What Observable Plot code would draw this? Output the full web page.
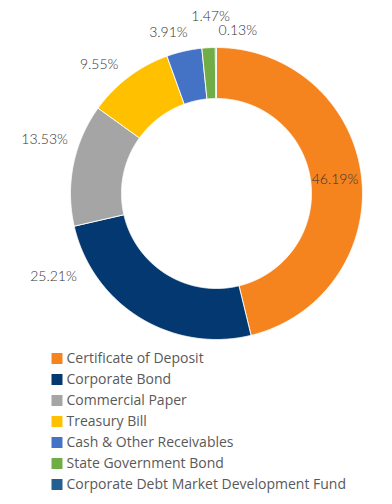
<!DOCTYPE html>
<html>
<head>
<meta charset="utf-8">
<script src="https://cdn.jsdelivr.net/npm/d3@7"></script>
<script src="https://cdn.jsdelivr.net/npm/@observablehq/plot@0.6"></script>
<style>
  html, body { margin: 0; padding: 0; background: #ffffff; }
  #chart svg { display: block; }
</style>
</head>
<body>
<div id="chart"></div>
<script>
// ---- data ----
const categories = [
  "Certificate of Deposit",
  "Corporate Bond",
  "Commercial Paper",
  "Treasury Bill",
  "Cash & Other Receivables",
  "State Government Bond",
  "Corporate Debt Market Development Fund"
];
const values = [46.19, 25.21, 13.53, 9.55, 3.91, 1.47, 0.13];
const colors = ["#F5841F", "#043870", "#A5A5A5", "#FFC000", "#4472C4", "#70AD47", "#255E91"];

// ---- label placement (angle nudge in degrees, distance in ring radii) ----
const labelAngleNudge = [0.2, 31.3, 5.9, -5.2, -3.8, 1.2, 7.7];
const labelDistance = [0.817, 1.253, 1.233, 1.195, 1.151, 1.21, 1.123];

// ---- geometry (unit radius = outer radius) ----
const W = 392, H = 345;
const Rpx = 146, cx = 216, cy = 193;
const inner = 95 / Rpx;
const total = d3.sum(values);

const slices = [];
let acc = 0;
categories.forEach((c, i) => {
  const a0 = acc / total * 2 * Math.PI;
  acc += values[i];
  const a1 = acc / total * 2 * Math.PI;
  slices.push({cat: c, value: values[i], a0, a1, i});
});

const pts = [];
for (const s of slices) {
  const n = Math.max(2, Math.ceil((s.a1 - s.a0) / 0.005));
  const ring = [];
  for (let k = 0; k <= n; k++) {
    const a = s.a0 + (s.a1 - s.a0) * k / n;
    ring.push({cat: s.cat, x: Math.sin(a), y: Math.cos(a)});
  }
  for (let k = n; k >= 0; k--) {
    const a = s.a0 + (s.a1 - s.a0) * k / n;
    ring.push({cat: s.cat, x: inner * Math.sin(a), y: inner * Math.cos(a)});
  }
  ring.push({...ring[0]});
  pts.push(...ring);
}

const labels = slices.map(s => {
  const a = (s.a0 + s.a1) / 2 + labelAngleNudge[s.i] * Math.PI / 180;
  const r = labelDistance[s.i];
  return {text: s.value.toFixed(2) + "%", x: r * Math.sin(a), y: r * Math.cos(a)};
});

const colorScale = {domain: categories, range: colors};

const donut = Plot.plot({
  width: W, height: H,
  margin: 0,
  x: {domain: [-cx / Rpx, (W - cx) / Rpx], axis: null},
  y: {domain: [-(H - cy) / Rpx, cy / Rpx], axis: null},
  color: colorScale,
  style: {background: "#ffffff", fontFamily: "Lato, sans-serif"},
  marks: [
    Plot.line(pts, {x: "x", y: "y", z: "cat", fill: "cat", stroke: "#ffffff", strokeWidth: 0.9, curve: "linear"}),
    Plot.text(labels, {x: "x", y: "y", text: "text", fill: "#333333", fontSize: 14, fontWeight: 300, fontFamily: "Lato, sans-serif"})
  ]
});

const LH = 159;
const legend = Plot.plot({
  width: W, height: LH,
  marginTop: 0, marginBottom: 7.3, marginLeft: 0, marginRight: 0,
  x: {domain: [0, W], axis: null},
  y: {type: "point", domain: categories, padding: 0.5, axis: null},
  color: colorScale,
  style: {background: "#ffffff", fontFamily: "'Open Sans', sans-serif"},
  marks: [
    Plot.dot(categories, {x: () => 56.5, y: d => d, fill: d => d, symbol: "square", r: 6.2, stroke: null}),
    Plot.text(categories, {x: () => 66, y: d => d, text: d => d, textAnchor: "start", fill: "#595959", fontSize: 14, fontFamily: "'Open Sans', sans-serif"})
  ]
});

const el = document.getElementById("chart");
el.appendChild(donut);
el.appendChild(legend);
</script>
</body>
</html>
